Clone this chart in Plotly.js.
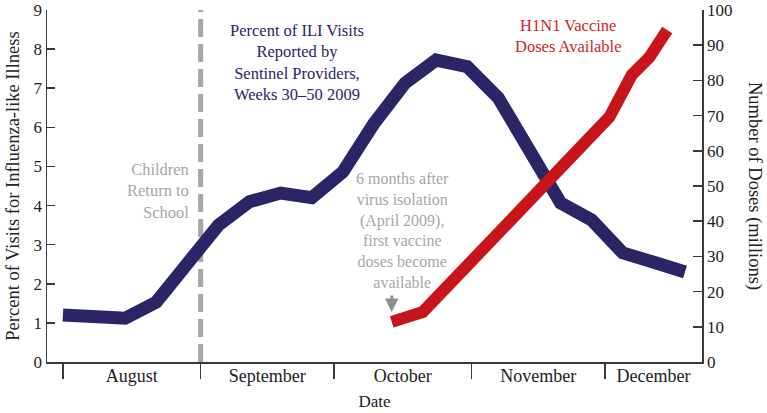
<!DOCTYPE html>
<html>
<head>
<meta charset="utf-8">
<script src="https://cdn.plot.ly/plotly-3.0.1.min.js"></script>
<style>
  html, body { margin: 0; padding: 0; background: #fff; }
  #chart { width: 767px; height: 413px; }
</style>
</head>
<body>
<div id="chart"></div>
<script>
// ILI visits, weeks 30-50 of 2009 (week ending dates)
var iliWeeks = ['2009-08-01', '2009-08-08', '2009-08-15', '2009-08-22', '2009-08-29',
    '2009-09-05', '2009-09-12', '2009-09-19', '2009-09-26', '2009-10-03',
    '2009-10-10', '2009-10-17', '2009-10-24', '2009-10-31', '2009-11-07',
    '2009-11-14', '2009-11-21', '2009-11-28', '2009-12-05', '2009-12-12', '2009-12-19'];
var iliPercent = [1.2, 1.15, 1.12, 1.53, 2.5, 3.5, 4.1, 4.32, 4.2, 4.86,
    6.1, 7.13, 7.72, 7.55, 6.75, 5.4, 4.07, 3.63, 2.79, 2.55, 2.3];

// H1N1 vaccine doses available (millions)
var doseDates = ['2009-10-14', '2009-10-21', '2009-12-02', '2009-12-07', '2009-12-11', '2009-12-15'];
var doses = [11.4, 14.2, 69.6, 81.5, 86.6, 94.3];

// month boundaries and labels
var monthStarts = ['2009-08-01', '2009-09-01', '2009-10-01', '2009-11-01', '2009-12-01'];
var monthNames = ['August', 'September', 'October', 'November', 'December'];
var schoolDate = '2009-09-01';

var xRange = ['2009-07-28 10:00', '2009-12-22 20:00'];

// label positions: middle of each month (last one middle of the visible part)
function ms(d) { return new Date(d.replace(' ', 'T') + 'Z').getTime(); }
var bounds = monthStarts.slice(1).concat([xRange[1]]);
var labelPos = monthStarts.map(function (d, i) {
    return new Date((ms(d) + ms(bounds[i])) / 2).toISOString().slice(0, 19).replace('T', ' ');
});

var navy = '#2b2566';
var red = '#c8151b';
var grey = '#a6a6a6';
var axisCol = '#3a3a3a';
var serif = '"Liberation Serif", "DejaVu Serif", serif';

function f(size, color) { return {family: serif, size: size, color: color}; }

var data = [{
    x: iliWeeks,
    y: iliPercent,
    type: 'scatter',
    mode: 'lines',
    line: {color: navy, width: 13},
    hoverinfo: 'skip'
}, {
    x: doseDates,
    y: doses,
    yaxis: 'y2',
    type: 'scatter',
    mode: 'lines',
    line: {color: red, width: 12},
    hoverinfo: 'skip'
}];

var layout = {
    width: 767,
    height: 413,
    margin: {l: 47, r: 65, t: 10, b: 51},
    paper_bgcolor: '#fff',
    plot_bgcolor: '#fff',
    showlegend: false,
    font: f(17, axisCol),
    xaxis: {
        type: 'date',
        range: xRange,
        tickmode: 'array',
        tickvals: labelPos,
        ticktext: monthNames,
        ticks: '',
        ticklabelstandoff: -3,
        showgrid: false,
        zeroline: false,
        showline: true,
        linecolor: axisCol,
        linewidth: 1.5,
        tickfont: f(18, '#222'),
        minor: {
            tickmode: 'array',
            tickvals: monthStarts,
            ticks: 'outside',
            ticklen: 15,
            tickwidth: 1.5,
            tickcolor: axisCol,
            showgrid: false
        },
        title: {text: 'Date', font: f(17, '#222'), standoff: 10}
    },
    yaxis: {
        range: [0, 9],
        dtick: 1,
        ticks: 'inside',
        ticklen: 8,
        tickwidth: 1.5,
        tickcolor: axisCol,
        showline: true,
        linecolor: axisCol,
        linewidth: 1.5,
        showgrid: false,
        zeroline: false,
        tickfont: f(17, '#222'),
        title: {text: 'Percent of Visits for Influenza-like Illness', font: f(18.5, '#222'), standoff: 9}
    },
    yaxis2: {
        range: [0, 100],
        dtick: 10,
        overlaying: 'y',
        side: 'right',
        ticks: 'inside',
        ticklen: 9,
        tickwidth: 1.5,
        tickcolor: axisCol,
        showline: true,
        linecolor: axisCol,
        linewidth: 1.5,
        showgrid: false,
        zeroline: false,
        tickfont: f(17, '#222')
    },
    shapes: [{
        type: 'line',
        xref: 'x', yref: 'paper',
        x0: schoolDate, x1: schoolDate, y0: 0, y1: 1,
        line: {color: grey, width: 5, dash: '18px,7px'},
        layer: 'below'
    }],
    annotations: [{
        xref: 'x', yref: 'paper', x: schoolDate, y: 0.486,
        xanchor: 'right', yanchor: 'middle', xshift: -10, align: 'right',
        text: 'Children<br>Return to<br>School',
        showarrow: false,
        font: f(16.5, grey)
    }, {
        xref: 'paper', yref: 'paper', x: 0.382, y: 0.975,
        xanchor: 'center', yanchor: 'top', align: 'center',
        text: 'Percent of ILI Visits<br>Reported by<br>Sentinel Providers,<br>Weeks 30\u201350 2009',
        showarrow: false,
        font: f(16.5, navy)
    }, {
        xref: 'paper', yref: 'paper', x: 0.795, y: 0.99,
        xanchor: 'center', yanchor: 'top', align: 'center',
        text: 'H1N1 Vaccine<br>Doses Available',
        showarrow: false,
        font: f(16.5, '#d0262b')
    }, {
        xref: 'paper', yref: 'paper', x: 0.543, y: 0.55,
        xanchor: 'center', yanchor: 'top', align: 'center',
        text: '6 months after<br>virus isolation<br>(April 2009),<br>first vaccine<br>doses become<br>available',
        showarrow: false,
        font: f(16, grey)
    }, {
        xref: 'x', yref: 'y2', x: doseDates[0], y: doses[0] + 2.8,
        text: '', showarrow: true,
        arrowhead: 2, arrowsize: 0.9, arrowwidth: 3, arrowcolor: '#8f8f8f',
        ax: 0, ay: -18
    }, {
        xref: 'paper', yref: 'paper', x: 1, y: 0.5,
        xanchor: 'center', yanchor: 'middle', xshift: 53,
        text: 'Number of Doses (millions)', textangle: 90,
        showarrow: false,
        font: f(18.5, '#222')
    }]
};

var config = {staticPlot: true};

Plotly.newPlot('chart', data, layout, config);
</script>
</body>
</html>
